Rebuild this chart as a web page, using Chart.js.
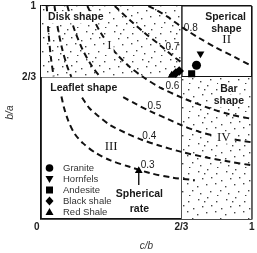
<!DOCTYPE html>
<html>
<head>
<meta charset="utf-8">
<script src="https://cdn.jsdelivr.net/npm/chart.js@4.4.0/dist/chart.umd.min.js"></script>
<style>
  body { margin: 0; background: #fff; }
  #wrap { width: 257px; height: 253px; }
</style>
</head>
<body>
<div id="wrap"><canvas id="grafico" width="257" height="253"></canvas></div>
<script>
// Ejes
const valoresTicks = [0, 2 / 3, 1]
const etiquetasX = ['0   ', '2/3', '1']
const etiquetasY = ['', '2/3', '1']

// Zonas punteadas (I arriba a la izquierda, IV abajo a la derecha)
const zonaI = [{ x: 0, y: 1 }, { x: 2 / 3, y: 1 }]
const zonaIV = [{ x: 2 / 3, y: 2 / 3 }, { x: 1, y: 2 / 3 }]

// Curvas de esfericidad
const curva03Arriba = [{ x: 0.027, y: 1 }, { x: 0.036, y: 0.87 }, { x: 0.048, y: 0.75 }, { x: 0.06, y: 0.67 }]
const curva04Arriba = [{ x: 0.064, y: 1 }, { x: 0.08, y: 0.895 }, { x: 0.10, y: 0.80 }, { x: 0.125, y: 0.715 }, { x: 0.144, y: 0.667 }]
const curva05Arriba = [{ x: 0.125, y: 1 }, { x: 0.16, y: 0.885 }, { x: 0.20, y: 0.79 }, { x: 0.24, y: 0.72 }, { x: 0.28, y: 0.667 }]
const curva03 = [{ x: 0.097, y: 0.575 }, { x: 0.11, y: 0.52 }, { x: 0.13, y: 0.46 }, { x: 0.16, y: 0.40 }, { x: 0.20, y: 0.355 },
  { x: 0.26, y: 0.31 }, { x: 0.33, y: 0.275 }, { x: 0.42, y: 0.245 }, { x: 0.52, y: 0.215 }, { x: 0.62, y: 0.195 }, { x: 0.73, y: 0.182 }]
const curva04 = [{ x: 0.195, y: 0.57 }, { x: 0.23, y: 0.52 }, { x: 0.27, y: 0.485 }, { x: 0.33, y: 0.44 }, { x: 0.40, y: 0.405 },
  { x: 0.47, y: 0.375 }, { x: 0.56, y: 0.345 }, { x: 0.667, y: 0.315 }, { x: 0.78, y: 0.29 }, { x: 0.89, y: 0.27 }, { x: 1, y: 0.252 }]
const curva05 = [{ x: 0.39, y: 0.572 }, { x: 0.45, y: 0.54 }, { x: 0.52, y: 0.505 }, { x: 0.60, y: 0.47 }, { x: 0.667, y: 0.44 },
  { x: 0.75, y: 0.41 }, { x: 0.85, y: 0.385 }, { x: 1, y: 0.36 }]
const curva06 = [{ x: 0.22, y: 1 }, { x: 0.28, y: 0.88 }, { x: 0.35, y: 0.785 }, { x: 0.42, y: 0.715 }, { x: 0.49, y: 0.663 },
  { x: 0.57, y: 0.615 }, { x: 0.68, y: 0.565 }, { x: 0.80, y: 0.52 }, { x: 0.90, y: 0.49 }, { x: 1, y: 0.47 }]
const curva07 = [{ x: 0.35, y: 1 }, { x: 0.42, y: 0.935 }, { x: 0.49, y: 0.875 }, { x: 0.56, y: 0.82 }, { x: 0.62, y: 0.77 }, { x: 0.667, y: 0.735 }]
const curva08 = [{ x: 0.51, y: 1 }, { x: 0.55, y: 0.98 }, { x: 0.60, y: 0.95 }, { x: 0.67, y: 0.90 }, { x: 0.75, y: 0.85 },
  { x: 0.83, y: 0.805 }, { x: 0.92, y: 0.76 }, { x: 1, y: 0.718 }]

// Muestras de roca
const granito = [{ x: 0.738, y: 0.722 }]
const hornfels = [{ x: 0.757, y: 0.776 }]
const andesita = [{ x: 0.715, y: 0.682 }]
const lutitaNegra = [{ x: 0.656, y: 0.695 }, { x: 0.64, y: 0.685 }]
const lutitaRoja = [{ x: 0.62, y: 0.675 }]

// Flecha "Spherical rate"
const flecha = [{ x: 0.464, y: 0.16 }, { x: 0.464, y: 0.226 }]

const fuente = 'Liberation Sans, Arial, sans-serif'
const fuenteSerif = 'Liberation Serif, Times New Roman, serif'

// textos del grafico
const textos = [
  { t: 'Disk shape', x: 0.165, y: 0.947, tipo: 'bold', fondo: true },
  { t: 'I', x: 0.325, y: 0.812, tipo: 'romano', fondo: true },
  { t: 'Sperical', x: 0.876, y: 0.947, tipo: 'bold' },
  { t: 'shape', x: 0.880, y: 0.892, tipo: 'bold' },
  { t: 'II', x: 0.881, y: 0.843, tipo: 'romano' },
  { t: '0.8', x: 0.711, y: 0.895, tipo: 'num' },
  { t: '0.7', x: 0.624, y: 0.806, tipo: 'num' },
  { t: '0.6', x: 0.624, y: 0.624, tipo: 'num' },
  { t: '0.5', x: 0.538, y: 0.531, tipo: 'num' },
  { t: '0.4', x: 0.514, y: 0.390, tipo: 'num' },
  { t: '0.3', x: 0.506, y: 0.252, tipo: 'num' },
  { t: 'III', x: 0.333, y: 0.339, tipo: 'romano' },
  { t: 'Leaflet shape', x: 0.203, y: 0.616, tipo: 'bold' },
  { t: 'Bar', x: 0.892, y: 0.612, tipo: 'bold', fondo: true },
  { t: 'shape', x: 0.892, y: 0.554, tipo: 'bold', fondo: true },
  { t: 'IV', x: 0.868, y: 0.382, tipo: 'romano', fondo: true }
]

const leyenda = ['Granite', 'Hornfels', 'Andesite', 'Black shale', 'Red Shale']

const crearPunteado = () => {
  const c = document.createElement('canvas')
  c.width = 28
  c.height = 28
  const ctx = c.getContext('2d')
  ctx.fillStyle = '#ffffff'
  ctx.fillRect(0, 0, 28, 28)
  ctx.fillStyle = '#444'
  const puntos = [[2, 3], [11, 1], [20, 5], [25, 12], [6, 10], [15, 9], [1, 18], [10, 16], [19, 15], [24, 22], [4, 25], [14, 23], [21, 27], [8, 5]]
  puntos.forEach(([x, y]) => ctx.fillRect(x, y, 1.4, 1.4))
  return ctx.createPattern(c, 'repeat')
}
const punteado = crearPunteado()

const zona = (data, destino) => ({
  type: 'line', data, borderColor: 'transparent', borderWidth: 0, pointRadius: 0,
  fill: destino, backgroundColor: punteado, order: 10
})
const curva = (data) => ({
  type: 'line', data, borderColor: '#111', borderWidth: 2, borderDash: [6, 4],
  pointRadius: 0, tension: 0.3, fill: false, order: 5
})
const muestra = (data, estilo, radio, rotacion) => ({
  type: 'scatter', data, pointStyle: estilo, pointRadius: radio, rotation: rotacion || 0,
  backgroundColor: '#000', borderColor: '#000', borderWidth: 0, order: 1
})

// dibujar forma de leyenda
const dibujarMarca = (ctx, tipo, x, y) => {
  ctx.fillStyle = '#000'
  ctx.beginPath()
  if (tipo === 0) ctx.arc(x, y, 3.8, 0, Math.PI * 2)
  if (tipo === 1) { ctx.moveTo(x - 4, y - 3); ctx.lineTo(x + 4, y - 3); ctx.lineTo(x, y + 4) }
  if (tipo === 2) ctx.rect(x - 3.5, y - 3.5, 7, 7)
  if (tipo === 3) { ctx.moveTo(x, y - 4.5); ctx.lineTo(x + 4, y); ctx.lineTo(x, y + 4.5); ctx.lineTo(x - 4, y) }
  if (tipo === 4) { ctx.moveTo(x - 4, y + 3); ctx.lineTo(x + 4, y + 3); ctx.lineTo(x, y - 4) }
  ctx.closePath()
  ctx.fill()
}

const pluginTextos = {
  id: 'textos',
  afterDatasetsDraw(chart) {
    const { ctx, scales: { x, y }, chartArea } = chart
    ctx.save()
    // leyenda
    ctx.font = '9.5px ' + fuente
    ctx.textAlign = 'left'
    ctx.textBaseline = 'middle'
    leyenda.forEach((nombre, i) => {
      const py = chartArea.bottom - 51 + i * 11
      dibujarMarca(ctx, i, chartArea.left + 8.5, py)
      ctx.fillStyle = '#333'
      ctx.fillText(nombre, chartArea.left + 22, py)
    })
    textos.concat([
      { t: 'Spherical', x: 0.467, y: 0.116, tipo: 'bold', fondo: true },
      { t: 'rate', x: 0.467, y: 0.048, tipo: 'bold' }
    ]).forEach(e => {
      if (e.tipo === 'bold') ctx.font = 'bold 10.5px ' + fuente
      else if (e.tipo === 'romano') ctx.font = '13px ' + fuenteSerif
      else ctx.font = '10px ' + fuente
      ctx.textAlign = 'center'
      ctx.textBaseline = 'middle'
      const px = x.getPixelForValue(e.x)
      const py = y.getPixelForValue(e.y)
      if (e.fondo) {
        const w = ctx.measureText(e.t).width
        ctx.fillStyle = '#fff'
        ctx.fillRect(px - w / 2 - 2, py - 6, w + 4, 12)
      }
      ctx.fillStyle = '#1a1a1a'
      ctx.fillText(e.t, px, py)
    })
    ctx.restore()
  }
}

new Chart(document.getElementById('grafico'), {
  type: 'scatter',
  data: {
    datasets: [
      zona(zonaI, { value: 2 / 3 }),
      zona(zonaIV, { value: 0 }),
      curva(curva03Arriba), curva(curva04Arriba), curva(curva05Arriba),
      curva(curva03), curva(curva04), curva(curva05), curva(curva06), curva(curva07), curva(curva08),
      {
        type: 'line', data: flecha, borderColor: '#000', borderWidth: 1.3, pointRadius: [0, 3.2],
        pointStyle: 'triangle', backgroundColor: '#000', order: 2
      },
      muestra(granito, 'circle', 4.5),
      muestra(hornfels, 'triangle', 4.5, 180),
      muestra(andesita, 'rect', 5),
      muestra(lutitaNegra, 'rectRot', 4.8),
      muestra(lutitaRoja, 'triangle', 4.5)
    ]
  },
  options: {
    responsive: false,
    animation: false,
    layout: { padding: { left: 4, top: 6, right: 4, bottom: 0 } },
    plugins: { legend: { display: false }, tooltip: { enabled: false } },
    scales: {
      x: {
        type: 'linear', min: 0, max: 1,
        afterBuildTicks: s => { s.ticks = valoresTicks.map(v => ({ value: v })) },
        afterFit: s => { s.height = 34; s.paddingLeft = 0; s.paddingRight = 0 },
        ticks: {
          callback: (v, i) => etiquetasX[i], autoSkip: false, maxRotation: 0, padding: 2,
          color: '#222', font: { family: fuente, size: 10, weight: 'bold' }
        },
        grid: { color: '#111', lineWidth: 1.6, drawTicks: false },
        border: { color: '#111', width: 1.6 },
        title: {
          display: true, text: 'c/b', color: '#333', padding: { top: 0, bottom: 1 },
          font: { family: fuente, size: 10, style: 'italic' }
        }
      },
      y: {
        type: 'linear', min: 0, max: 1,
        afterBuildTicks: s => { s.ticks = valoresTicks.map(v => ({ value: v })) },
        afterFit: s => { s.width = 37; s.paddingTop = 0; s.paddingBottom = 0 },
        ticks: {
          callback: (v, i) => etiquetasY[i], autoSkip: false, padding: 5,
          color: '#222', font: { family: fuente, size: 10, weight: 'bold' }
        },
        grid: { color: '#111', lineWidth: 1.6, drawTicks: false },
        border: { color: '#111', width: 1.6 },
        title: {
          display: true, text: 'b/a', color: '#333', padding: { top: 0, bottom: 0 },
          font: { family: fuente, size: 10, style: 'italic' }
        }
      }
    }
  },
  plugins: [pluginTextos]
})
</script>
</body>
</html>
